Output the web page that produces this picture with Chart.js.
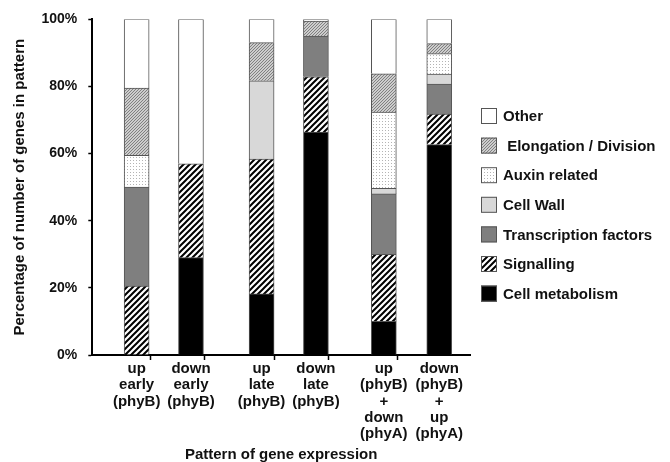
<!DOCTYPE html>
<html>
<head>
<meta charset="utf-8">
<script src="https://cdn.jsdelivr.net/npm/chart.js@4.4.1/dist/chart.umd.min.js"></script>
<style>
  html, body { margin: 0; padding: 0; background: #fff; }
  #wrap { width: 670px; height: 462px; }
</style>
</head>
<body>
<div id="wrap"><canvas id="genesChart"></canvas></div>
<script>
// --- data ---
var patterns = [
    ['up', 'early', '(phyB)'],
    ['down', 'early', '(phyB)'],
    ['up', 'late', '(phyB)'],
    ['down', 'late', '(phyB)'],
    ['up', '(phyB)', '+', 'down', '(phyA)'],
    ['down', '(phyB)', '+', 'up', '(phyA)']
];
var cellMetabolism = [0, 29, 18.2, 66.4, 10, 62.7];
var signalling = [20.5, 28, 40.2, 16.5, 20, 9.1];
var transcription = [29.5, 0, 0, 12.1, 18, 8.9];
var cellWall = [0, 0, 23.3, 0, 1.7, 3];
var auxin = [9.5, 0, 0, 0, 22.7, 6.1];
var elongation = [20, 0, 11.4, 4.5, 11.4, 3];
var other = [20.5, 43, 6.9, 0.5, 16.2, 7.2];
var yTicks = [0, 20, 40, 60, 80, 100];

// --- layout: bar slots along x (pairs are spaced a bit apart) ---
var slots = [0.5, 1.5, 2.8, 3.8, 5.05, 6.07];
var tickMarks = [1, 2, 3.27, 4.27, 5.55];

// --- fills ---
function makePattern(draw) {
    var c = document.createElement('canvas');
    c.width = 6; c.height = 6;
    var g = c.getContext('2d');
    draw(g);
    return g.createPattern(c, 'repeat');
}
function stripes(bg, fg, w) {
    return function (g) {
        g.fillStyle = bg; g.fillRect(0, 0, 6, 6);
        g.strokeStyle = fg; g.lineWidth = w;
        g.beginPath();
        g.moveTo(-1, 7); g.lineTo(7, -1);
        g.moveTo(-4, 4); g.lineTo(4, -4);
        g.moveTo(2, 10); g.lineTo(10, 2);
        g.stroke();
    };
}
var signallingFill = makePattern(stripes('#ffffff', '#000000', 2));
var elongationFill = (function () {
    var c = document.createElement('canvas');
    c.width = 3; c.height = 3;
    var g = c.getContext('2d');
    g.fillStyle = '#cdcdcd'; g.fillRect(0, 0, 3, 3);
    g.fillStyle = '#808080';
    g.fillRect(2, 0, 1, 1); g.fillRect(1, 1, 1, 1); g.fillRect(0, 2, 1, 1);
    return g.createPattern(c, 'repeat');
})();
var auxinFill = (function () {
    var c = document.createElement('canvas');
    c.width = 3; c.height = 3;
    var g = c.getContext('2d');
    g.fillStyle = '#ffffff'; g.fillRect(0, 0, 3, 3);
    g.fillStyle = '#b4b4b4'; g.fillRect(1, 1, 1, 1);
    return g.createPattern(c, 'repeat');
})();

function series(label, values, fill) {
    var pts = [];
    values.forEach(function (v, i) {
        if (v > 0) pts.push({ x: slots[i], y: v });
    });
    return {
        label: label,
        data: pts,
        backgroundColor: fill,
        borderColor: '#555555',
        borderWidth: 1,
        barThickness: 25
    };
}

// legend drawn on the right side, top entry = top of stack
var sideLegend = {
    id: 'sideLegend',
    afterDraw: function (chart, args, opts) {
        var ctx = chart.ctx;
        var sets = chart.data.datasets.slice().reverse();
        ctx.save();
        ctx.font = 'bold 15px "Liberation Sans", Arial, sans-serif';
        ctx.textBaseline = 'middle';
        sets.forEach(function (ds, i) {
            var y = opts.top + i * opts.step;
            ctx.fillStyle = ds.backgroundColor;
            ctx.fillRect(opts.left, y - 8, 16, 16);
            ctx.strokeStyle = '#555555';
            ctx.lineWidth = 1;
            ctx.strokeRect(opts.left + 0.5, y - 7.5, 15, 15);
            ctx.fillStyle = '#111111';
            ctx.fillText(ds.label, opts.left + 22, y + 1);
        });
        ctx.restore();
    }
};

Chart.defaults.font.family = '"Liberation Sans", Arial, sans-serif';
Chart.defaults.font.weight = 'bold';
Chart.defaults.color = '#111111';

new Chart(document.getElementById('genesChart'), {
    type: 'bar',
    data: {
        datasets: [
            series('Cell metabolism', cellMetabolism, '#000000'),
            series('Signalling', signalling, signallingFill),
            series('Transcription factors', transcription, '#7f7f7f'),
            series('Cell Wall', cellWall, '#d8d8d8'),
            series('Auxin related', auxin, auxinFill),
            series(' Elongation / Division', elongation, elongationFill),
            series('Other', other, '#ffffff')
        ]
    },
    options: {
        responsive: true,
        maintainAspectRatio: false,
        animation: false,
        layout: { padding: { left: 6, right: 200, top: 15, bottom: 0 } },
        plugins: {
            legend: { display: false },
            tooltip: { enabled: false },
            sideLegend: { left: 481, top: 116, step: 29.6 }
        },
        scales: {
            x: {
                type: 'linear',
                stacked: true,
                min: 0,
                max: 6.32,
                afterBuildTicks: function (axis) {
                    axis.ticks = slots.concat(tickMarks)
                        .sort(function (a, b) { return a - b; })
                        .map(function (v) { return { value: v }; });
                },
                ticks: {
                    autoSkip: false,
                    maxRotation: 0,
                    padding: 1,
                    font: { size: 15, lineHeight: 1.08 },
                    callback: function (v) {
                        var i = slots.indexOf(v);
                        return i >= 0 ? patterns[i] : '';
                    }
                },
                grid: {
                    drawOnChartArea: false,
                    tickLength: 5,
                    tickWidth: 1.5,
                    tickColor: function (c) {
                        return c.tick && tickMarks.indexOf(c.tick.value) >= 0 ? '#000000' : 'rgba(0,0,0,0)';
                    }
                },
                border: { color: '#000000', width: 2 },
                title: {
                    display: true,
                    text: 'Pattern of gene expression',
                    font: { size: 15, lineHeight: 1 },
                    padding: { top: 4, bottom: 0 }
                }
            },
            y: {
                stacked: true,
                min: 0,
                max: 100,
                afterBuildTicks: function (axis) {
                    axis.ticks = yTicks.map(function (v) { return { value: v }; });
                },
                ticks: {
                    padding: 11,
                    font: { size: 14 },
                    callback: function (v) { return v + '%'; }
                },
                grid: {
                    drawOnChartArea: false,
                    tickLength: 4,
                    tickWidth: 1.5,
                    tickColor: '#000000'
                },
                border: { color: '#000000', width: 2 },
                title: {
                    display: true,
                    text: 'Percentage of number of genes in pattern',
                    font: { size: 15, lineHeight: 1.1 },
                    padding: { top: 6, bottom: 2 }
                }
            }
        }
    },
    plugins: [sideLegend]
});
</script>
</body>
</html>
